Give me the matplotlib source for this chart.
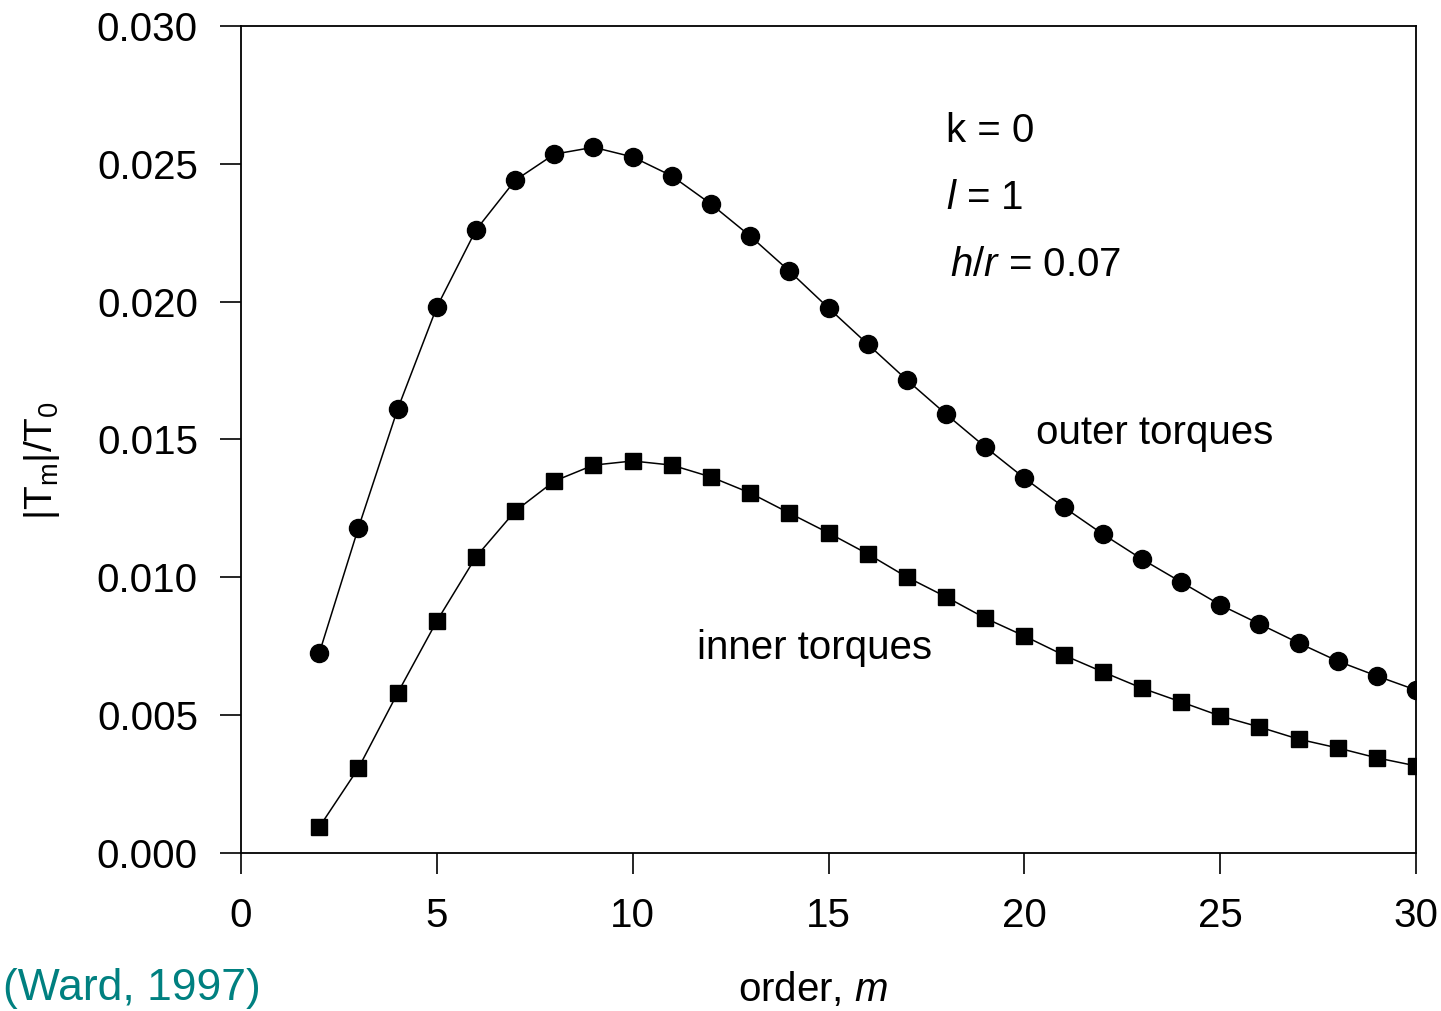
import numpy as np
import matplotlib.pyplot as plt

plt.rcParams['font.family'] = ['Liberation Sans', 'DejaVu Sans']
plt.rcParams['mathtext.fontset'] = 'custom'
plt.rcParams['mathtext.rm'] = 'Liberation Sans'
plt.rcParams['mathtext.it'] = 'Liberation Sans:italic'

# torque harmonics vs order m
order = np.arange(2, 31)
outer = [0.00725, 0.0118, 0.0161, 0.0198, 0.0226, 0.0244, 0.02535, 0.0256,
         0.02525, 0.02456, 0.02354, 0.02238, 0.02111, 0.01977, 0.01846,
         0.01716, 0.01592, 0.01473, 0.0136, 0.01255, 0.01157, 0.01066,
         0.00983, 0.0090, 0.00831, 0.00762, 0.00696, 0.00642, 0.00591]
inner = [0.00094, 0.00308, 0.0058, 0.00841, 0.01074, 0.0124, 0.01349,
         0.01407, 0.01422, 0.01407, 0.01364, 0.01306, 0.01233, 0.01161,
         0.01085, 0.01001, 0.00929, 0.00852, 0.00787, 0.00718, 0.00657,
         0.00598, 0.00548, 0.00497, 0.00457, 0.00413, 0.00381, 0.00345,
         0.00316]

fs = 29

fig = plt.figure(figsize=(14.41, 10.11), dpi=100)
ax = fig.add_axes([0.1672, 0.1563, 0.8155, 0.818])

ax.plot(order, outer, '-o', color='black', lw=1.1, ms=13)
ax.plot(order, inner, '-s', color='black', lw=1.1, ms=11.5)

ax.set_xlim(0, 30)
ax.set_ylim(0, 0.030)
ax.set_xticks(np.arange(0, 31, 5))
ax.set_yticks(np.arange(0, 0.0301, 0.005))
ax.set_yticklabels(['%.3f' % v for v in np.arange(0, 0.0301, 0.005)])
ax.tick_params(direction='out', length=15, width=1.2, labelsize=fs, pad=16)
ax.tick_params(axis='x', pad=17)
for s in ax.spines.values():
    s.set_linewidth(1.3)

ax.text(18.0, 0.0262, 'k = 0', fontsize=fs, va='center')
ax.text(18.0, 0.02376, '$\\mathit{l}$ = 1', fontsize=fs, va='center')
ax.text(18.1, 0.02133, '$\\mathit{h/r}$ = 0.07', fontsize=fs, va='center')
ax.text(20.3, 0.01523, 'outer torques', fontsize=fs, va='center')
ax.text(11.65, 0.00744, 'inner torques', fontsize=fs, va='center')

fig.text(0.029, 0.545, '|T$_\\mathregular{m}$|/T$_\\mathregular{0}$', fontsize=28,
         rotation=90, ha='center', va='center')
fig.text(0.564, 0.002, 'order, $\\mathit{m}$', fontsize=fs, ha='center', va='bottom')
fig.text(0.002, 0.002, '(Ward, 1997)', fontsize=32, color='#008080',
         ha='left', va='bottom')

fig.savefig('out.png', dpi=100)
